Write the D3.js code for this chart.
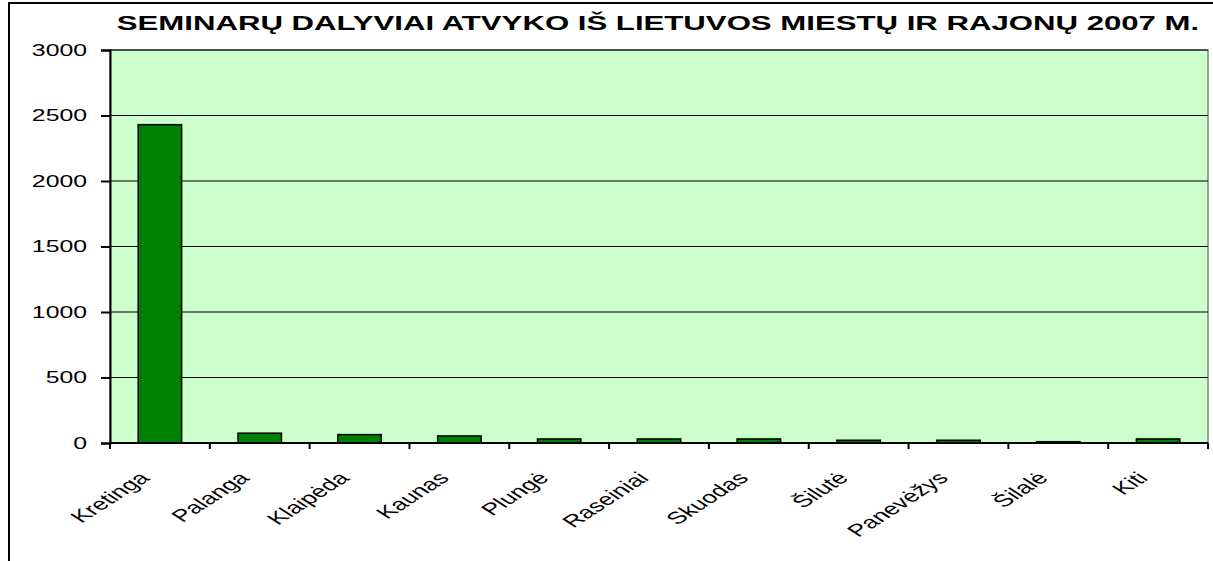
<!DOCTYPE html>
<html>
<head>
<meta charset="utf-8">
<script src="https://cdn.jsdelivr.net/npm/d3@7"></script>
<style>
  html, body { margin: 0; padding: 0; background: #fff; }
  svg { display: block; font-family: "Liberation Sans", Arial, sans-serif; }
</style>
</head>
<body>
<div id="chart"></div>
<script>
// seminaru dalyviai pagal miestus
const cities = ["Kretinga", "Palanga", "Klaipėda", "Kaunas", "Plungė", "Raseiniai", "Skuodas", "Šilutė", "Panevėžys", "Šilalė", "Kiti"]
const participants = [2430, 75, 64, 54, 31, 31, 31, 21, 21, 10, 31]
const yTicks = [0, 500, 1000, 1500, 2000, 2500, 3000]
const title = "SEMINARŲ DALYVIAI ATVYKO IŠ LIETUVOS MIESTŲ IR RAJONŲ 2007 M."

const width = 1213, height = 561
const marginTop = 50, marginRight = 5, marginBottom = 118, marginLeft = 110
const sx = 1.55 // the original picture is stretched sideways

const svg = d3.select("#chart").append("svg")
    .attr("width", width)
    .attr("height", height)
    .attr("viewBox", [0, 0, width, height])

// outer frame (only top + left visible)
svg.append("path")
    .attr("d", `M9,${height} V3 H${width}`)
    .attr("fill", "none")
    .attr("stroke", "#000")
    .attr("stroke-width", 2)

const x = d3.scaleBand()
    .domain(cities)
    .range([marginLeft, width - marginRight])
    .paddingInner(0.565)
    .paddingOuter(0.2825)

const y = d3.scaleLinear()
    .domain([0, 3000])
    .range([height - marginBottom, marginTop])

// plot area
svg.append("rect")
    .attr("x", marginLeft)
    .attr("y", y(3000))
    .attr("width", width - marginRight - marginLeft)
    .attr("height", y(0) - y(3000))
    .attr("fill", "#ccffcc")
    .attr("stroke", "#808080")
    .attr("stroke-width", 1.5)

// grid
svg.append("g")
    .selectAll("line")
    .data(yTicks.filter(d => d > 0))
    .join("line")
      .attr("x1", marginLeft)
      .attr("x2", width - marginRight)
      .attr("y1", d => y(d))
      .attr("y2", d => y(d))
      .attr("stroke", "#000")
      .attr("stroke-width", 1.2)

// bars
svg.append("g")
    .selectAll("rect")
    .data(cities)
    .join("rect")
      .attr("x", d => x(d))
      .attr("y", (d, i) => y(participants[i]))
      .attr("width", x.bandwidth())
      .attr("height", (d, i) => y(0) - y(participants[i]))
      .attr("fill", "#008000")
      .attr("stroke", "#000")
      .attr("stroke-width", 1.5)

// y axis
const yAxis = d3.axisLeft(y).tickValues(yTicks).tickFormat(d3.format("d")).tickSize(9).tickPadding(14)
svg.append("g")
    .attr("transform", `translate(${marginLeft},0)`)
    .call(yAxis)
    .call(g => g.select(".domain").attr("stroke-width", 2))
    .call(g => g.selectAll(".tick line").attr("stroke-width", 2))
    .call(g => g.selectAll(".tick text")
        .attr("font-size", 16)
        .attr("font-family", "Liberation Sans, Arial, sans-serif")
        .attr("fill", "#000")
        .attr("x", -23 / sx)
        .attr("transform", `scale(${sx},1)`))

// x axis, ticks between categories
const step = x.step()
const boundaries = d3.range(cities.length + 1).map(i => marginLeft + i * step)
svg.append("line")
    .attr("x1", marginLeft).attr("x2", width - marginRight)
    .attr("y1", y(0)).attr("y2", y(0))
    .attr("stroke", "#000").attr("stroke-width", 2)
svg.append("g")
    .selectAll("line")
    .data(boundaries)
    .join("line")
      .attr("x1", d => d).attr("x2", d => d)
      .attr("y1", y(0)).attr("y2", y(0) + 6)
      .attr("stroke", "#000").attr("stroke-width", 2)

svg.append("g")
    .selectAll("text")
    .data(cities)
    .join("text")
      .attr("transform", d => `translate(${x(d) + x.bandwidth() / 2 - 9},${y(0) + 36}) scale(${sx},1) rotate(-45)`)
      .attr("text-anchor", "end")
      .attr("font-size", 17)
      .attr("fill", "#000")
      .text(d => d)

// title
const t = svg.append("text")
    .attr("text-anchor", "middle")
    .attr("font-size", 20)
    .attr("font-weight", "bold")
    .attr("fill", "#000")
    .text(title)
const tw = t.node().getComputedTextLength()
const tsx = 1083 / tw
t.attr("transform", `translate(658,30) scale(${tsx},1)`)
</script>
</body>
</html>
